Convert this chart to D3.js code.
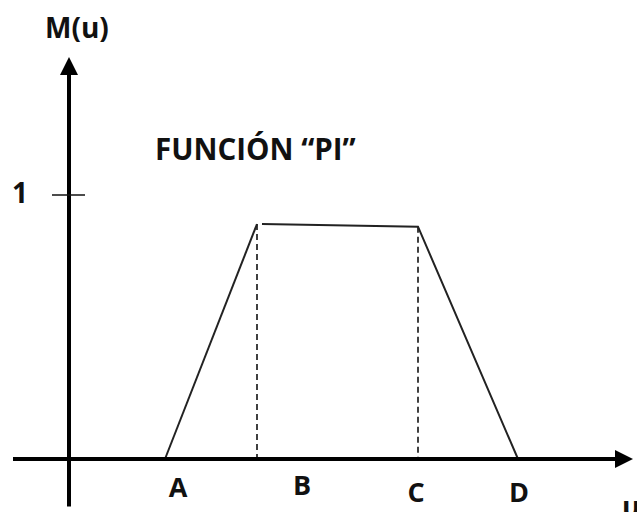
<!DOCTYPE html>
<html>
<head>
<meta charset="utf-8">
<script src="https://cdn.jsdelivr.net/npm/d3@7"></script>
<style>
  html, body { margin: 0; padding: 0; background: #fff; overflow: hidden; }
  svg { display: block; }
  svg text { font-family: "Open Sans", Lato, sans-serif; font-weight: 700; fill: #111; }
</style>
</head>
<body>
<svg id="chart" width="637" height="512"></svg>
<script>
// Trapezoidal ("PI") membership function
const pointNames = ['A', 'B', 'C', 'D'];
const pointU = [1.92, 3.76, 6.98, 8.98];
const membership = [0, 0.89, 0.88, 0];
const labelU = [2.18, 4.66, 6.94, 9.0];
const labelDrop = [38, 36, 43, 43];
const yTicks = [1];
const title = 'FUNCIÓN “PI”';

const svg = d3.select('#chart');

const x = d3.scaleLinear().domain([0, 10]).range([69, 569]);
const y = d3.scaleLinear().domain([0, 1]).range([459, 195]);

const xMin = -1.12, xMax = 11.28;
const yMin = -0.18, yMax = 1.523;

// Dashed drop lines at B and C
svg.selectAll('.drop').data([1, 2]).enter()
  .append('line').attr('class', 'drop')
  .attr('x1', i => x(pointU[i])).attr('x2', i => x(pointU[i]))
  .attr('y1', i => y(membership[i])).attr('y2', y(0))
  .attr('stroke', '#111').attr('stroke-width', 1.6).attr('stroke-dasharray', '6,4');

// Membership function (rise, then plateau + fall; small gap after the B corner like the original drawing)
const pts = pointU.map((u, i) => [u, membership[i]]);
const line = d3.line().x(d => x(d[0])).y(d => y(d[1]));
svg.append('path').datum(pts.slice(0, 2))
  .attr('d', line).attr('fill', 'none').attr('stroke', '#222').attr('stroke-width', 2);
svg.append('path').datum([[pts[1][0] + 0.1, pts[1][1]]].concat(pts.slice(2)))
  .attr('d', line).attr('fill', 'none').attr('stroke', '#222').attr('stroke-width', 2);

// Axes
svg.append('line').attr('x1', x(xMin)).attr('x2', x(xMax) - 12)
  .attr('y1', y(0)).attr('y2', y(0)).attr('stroke', '#000').attr('stroke-width', 4);
svg.append('path')
  .attr('d', `M${x(xMax)},${y(0)} L${x(xMax) - 18},${y(0) - 9} L${x(xMax) - 18},${y(0) + 9} Z`)
  .attr('fill', '#000');

svg.append('line').attr('x1', x(0)).attr('x2', x(0))
  .attr('y1', y(yMin)).attr('y2', y(yMax) + 14).attr('stroke', '#000').attr('stroke-width', 4);
svg.append('path')
  .attr('d', `M${x(0)},${y(yMax)} L${x(0) - 9},${y(yMax) + 18} L${x(0) + 9},${y(yMax) + 18} Z`)
  .attr('fill', '#000');

// Y tick "1"
svg.selectAll('.ytick').data(yTicks).enter()
  .append('line').attr('class', 'ytick')
  .attr('x1', x(0) - 17).attr('x2', x(0) + 16)
  .attr('y1', d => y(d)).attr('y2', d => y(d))
  .attr('stroke', '#111').attr('stroke-width', 1.5);
svg.selectAll('.ylab').data(yTicks).enter()
  .append('text').attr('class', 'ylab')
  .attr('x', x(0) - 49).attr('y', d => y(d) + 8)
  .attr('text-anchor', 'middle').style('font-size', '28px').text(d => d);

// Point labels
svg.selectAll('.plab').data(pointNames).enter()
  .append('text').attr('class', 'plab')
  .attr('x', (d, i) => x(labelU[i]))
  .attr('y', (d, i) => y(0) + labelDrop[i])
  .attr('text-anchor', 'middle').style('font-size', '27px').text(d => d);

// Axis names
svg.append('text').attr('x', 45).attr('y', 38).style('font-size', '28px').text('M(u)');
svg.append('text').attr('x', 622).attr('y', 517).style('font-size', '28px').text('u');

// Title
svg.append('text').attr('x', 155).attr('y', 160).style('font-size', '29.5px').text(title);
</script>
</body>
</html>
